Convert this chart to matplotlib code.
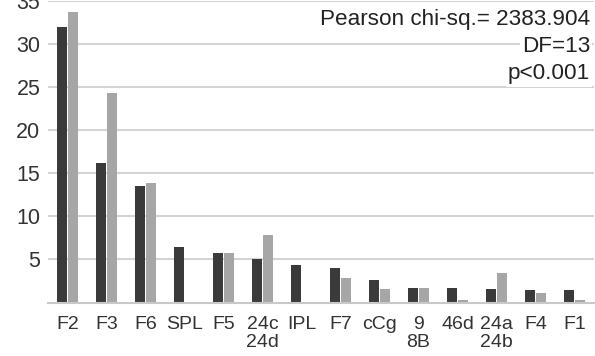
import matplotlib
matplotlib.use("Agg")
import matplotlib.pyplot as plt
import numpy as np

plt.rcParams['font.family'] = ['Liberation Sans', 'DejaVu Sans']

categories = ["F2", "F3", "F6", "SPL", "F5", "24c\n24d", "IPL", "F7", "cCg", "9\n8B", "46d", "24a\n24b", "F4", "F1"]
series_dark = [32.0, 16.2, 13.5, 6.4, 5.8, 5.0, 4.4, 4.0, 2.6, 1.7, 1.7, 1.6, 1.4, 1.4]
series_light = [33.7, 24.3, 13.9, 0.0, 5.8, 7.9, 0.0, 2.9, 1.6, 1.7, 0.3, 3.4, 1.1, 0.3]
yticks = [5, 10, 15, 20, 25, 30, 35]
annotation_lines = ["Pearson chi-sq.= 2383.904", "DF=13", "p<0.001"]

fig = plt.figure(figsize=(5.95, 3.56), dpi=100)
ax = fig.add_axes([48/595, 1 - 302.5/356, 546/595, (302.5 - 1.3)/356])

x = np.arange(len(categories))
w = 0.25
ax.bar(x - 0.145, series_dark, width=w, color="#3a3a3a", zorder=3)
ax.bar(x + 0.145, series_light, width=w, color="#a6a6a6", zorder=3)

ax.set_xlim(-0.5, len(categories) - 0.5)
ax.set_ylim(0, 35)
ax.set_yticks(yticks)
ax.set_yticklabels([str(t) for t in yticks])
ax.set_xticks(x)
ax.set_xticklabels(categories, linespacing=1.05, va='top')
ax.tick_params(axis='y', length=0, pad=5.5, labelsize=15.5, labelcolor="#333333")
ax.tick_params(axis='x', length=0, pad=10, labelsize=14, labelcolor="#333333")

ax.grid(axis='y', color="#d4d4d4", linewidth=1.5, zorder=0)
ax.set_axisbelow(True)
for s in ["top", "right", "left"]:
    ax.spines[s].set_visible(False)
ax.spines["bottom"].set_color("#c8c8c8")
ax.spines["bottom"].set_linewidth(1.5)
ax.spines["bottom"].set_zorder(4)

line_y = [19, 46, 74]
for txt, yy in zip(annotation_lines, line_y):
    fig.text(590/595, 1 - yy/356, txt, ha='right', va='center',
             fontsize=16.2, color="#222222",
             bbox=dict(facecolor='white', edgecolor='none', pad=1.5), zorder=5)

fig.savefig("out.png", dpi=100)
